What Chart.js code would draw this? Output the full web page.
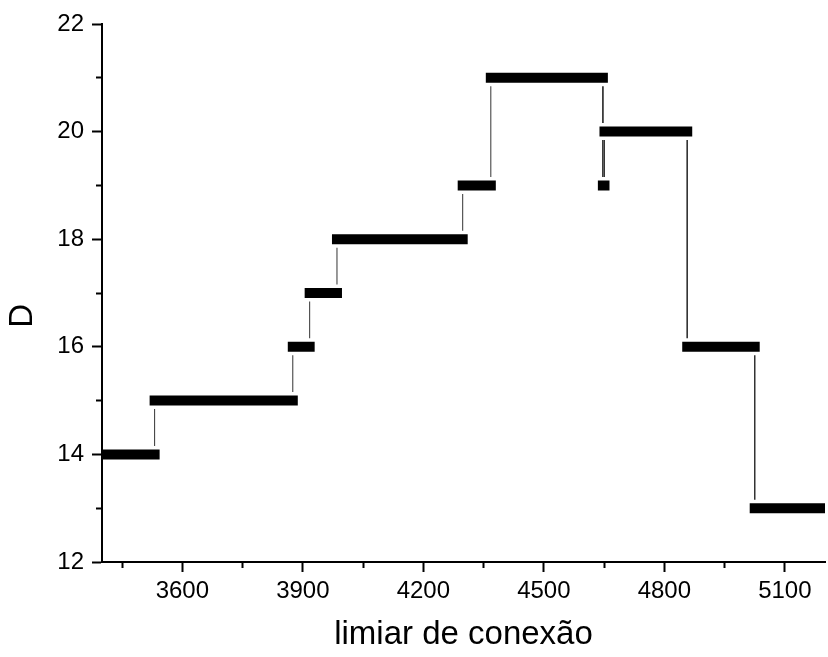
<!DOCTYPE html>
<html>
<head>
<meta charset="utf-8">
<script src="https://cdn.jsdelivr.net/npm/chart.js@4/dist/chart.umd.min.js"></script>
<style>
  html, body { margin: 0; padding: 0; background: #ffffff; }
  #wrap { width: 828px; height: 657px; }
</style>
</head>
<body>
<div id="wrap"><canvas id="c" width="828" height="657"></canvas></div>
<script>
// ---- data ----
// x where each level starts (last entry = end of the last level)
const thresholds = [3400, 3531, 3875, 3917, 3985, 4298, 4368, 4647, 4651, 4857, 5025, 5200];
// D value held on each interval
const levels = [14, 15, 16, 17, 18, 19, 21, 19, 20, 16, 13];

const xMajorTicks = [3600, 3900, 4200, 4500, 4800, 5100];
const xMinorTicks = [3450, 3750, 4050, 4350, 4650, 4950];
const yMajorTicks = [12, 14, 16, 18, 20, 22];
const yMinorTicks = [13, 15, 17, 19, 21];

const xTitle = 'limiar de conexão';
const yTitle = 'D';

// ---- build datasets from the arrays ----
const stepPts = [];
levels.forEach((d, i) => {
  stepPts.push({x: thresholds[i], y: d}, {x: thresholds[i + 1], y: d}, {x: thresholds[i + 1], y: null});
});
const risePts = [];
for (let i = 1; i < levels.length; i++) {
  risePts.push({x: thresholds[i], y: levels[i - 1]}, {x: thresholds[i], y: levels[i]}, {x: thresholds[i], y: null});
}

const tickFont = {family: '"Liberation Sans", Arial, sans-serif', size: 24};
const titleFont = {family: '"Liberation Sans", Arial, sans-serif', size: 33};

new Chart(document.getElementById('c'), {
  type: 'line',
  data: {
    datasets: [
      { data: stepPts, borderColor: '#000', borderWidth: 10, borderCapStyle: 'square',
        pointRadius: 0, spanGaps: false, clip: 0, order: 0, tension: 0 },
      { data: stepPts, borderColor: '#ffffff', borderWidth: 17, borderCapStyle: 'square',
        pointRadius: 0, spanGaps: false, clip: 0, order: 1, tension: 0 },
      { data: risePts, borderColor: '#333', borderWidth: 1, borderCapStyle: 'butt',
        pointRadius: 0, spanGaps: false, clip: 0, order: 2, tension: 0 }
    ]
  },
  options: {
    responsive: false,
    animation: false,
    devicePixelRatio: 1,
    events: [],
    layout: { padding: {left: 0, top: 24, right: 3, bottom: 0} },
    plugins: { legend: {display: false}, tooltip: {enabled: false}, title: {display: false} },
    scales: {
      x: {
        type: 'linear', position: 'bottom', min: 3400, max: 5200,
        afterBuildTicks: s => { s.ticks = xMajorTicks.map(v => ({value: v})); },
        afterFit: s => { s.height = 95; },
        ticks: { font: tickFont, color: '#000', padding: 5, maxRotation: 0, autoSkip: false,
                 callback: v => String(v) },
        grid: { drawOnChartArea: false, drawTicks: true, tickLength: 10, tickWidth: 2, tickColor: '#000', z: 1 },
        border: { display: true, color: '#000', width: 2, z: 1 },
        title: { display: true, text: xTitle, font: titleFont, color: '#000', padding: {top: 0, bottom: 2} }
      },
      y: {
        type: 'linear', position: 'left', min: 12, max: 22,
        afterBuildTicks: s => { s.ticks = yMajorTicks.map(v => ({value: v})); },
        afterFit: s => { s.width = 102; },
        ticks: { font: tickFont, color: '#000', padding: 8, autoSkip: false, callback: v => String(v) },
        grid: { drawOnChartArea: false, drawTicks: true, tickLength: 10, tickWidth: 2, tickColor: '#000', z: 1 },
        border: { display: true, color: '#000', width: 2, z: 1 },
        title: { display: true, text: yTitle + '\u00a0\u00a0\u00a0\u00a0\u00a0', font: titleFont, color: '#000', padding: {top: 3.5, bottom: 0} }
      },
      xMinor: {
        type: 'linear', axis: 'x', position: {y: 12}, min: 3400, max: 5200,
        afterBuildTicks: s => { s.ticks = xMinorTicks.map(v => ({value: v})); },
        ticks: { display: false },
        grid: { drawOnChartArea: false, drawTicks: true, tickLength: 6, tickWidth: 2, tickColor: '#000', z: 1 },
        border: { display: false }
      },
      yMinor: {
        type: 'linear', axis: 'y', position: {x: 3400}, min: 12, max: 22,
        afterBuildTicks: s => { s.ticks = yMinorTicks.map(v => ({value: v})); },
        ticks: { display: false },
        grid: { drawOnChartArea: false, drawTicks: true, tickLength: 6, tickWidth: 2, tickColor: '#000', z: 1 },
        border: { display: false }
      }
    }
  }
});
</script>
</body>
</html>
